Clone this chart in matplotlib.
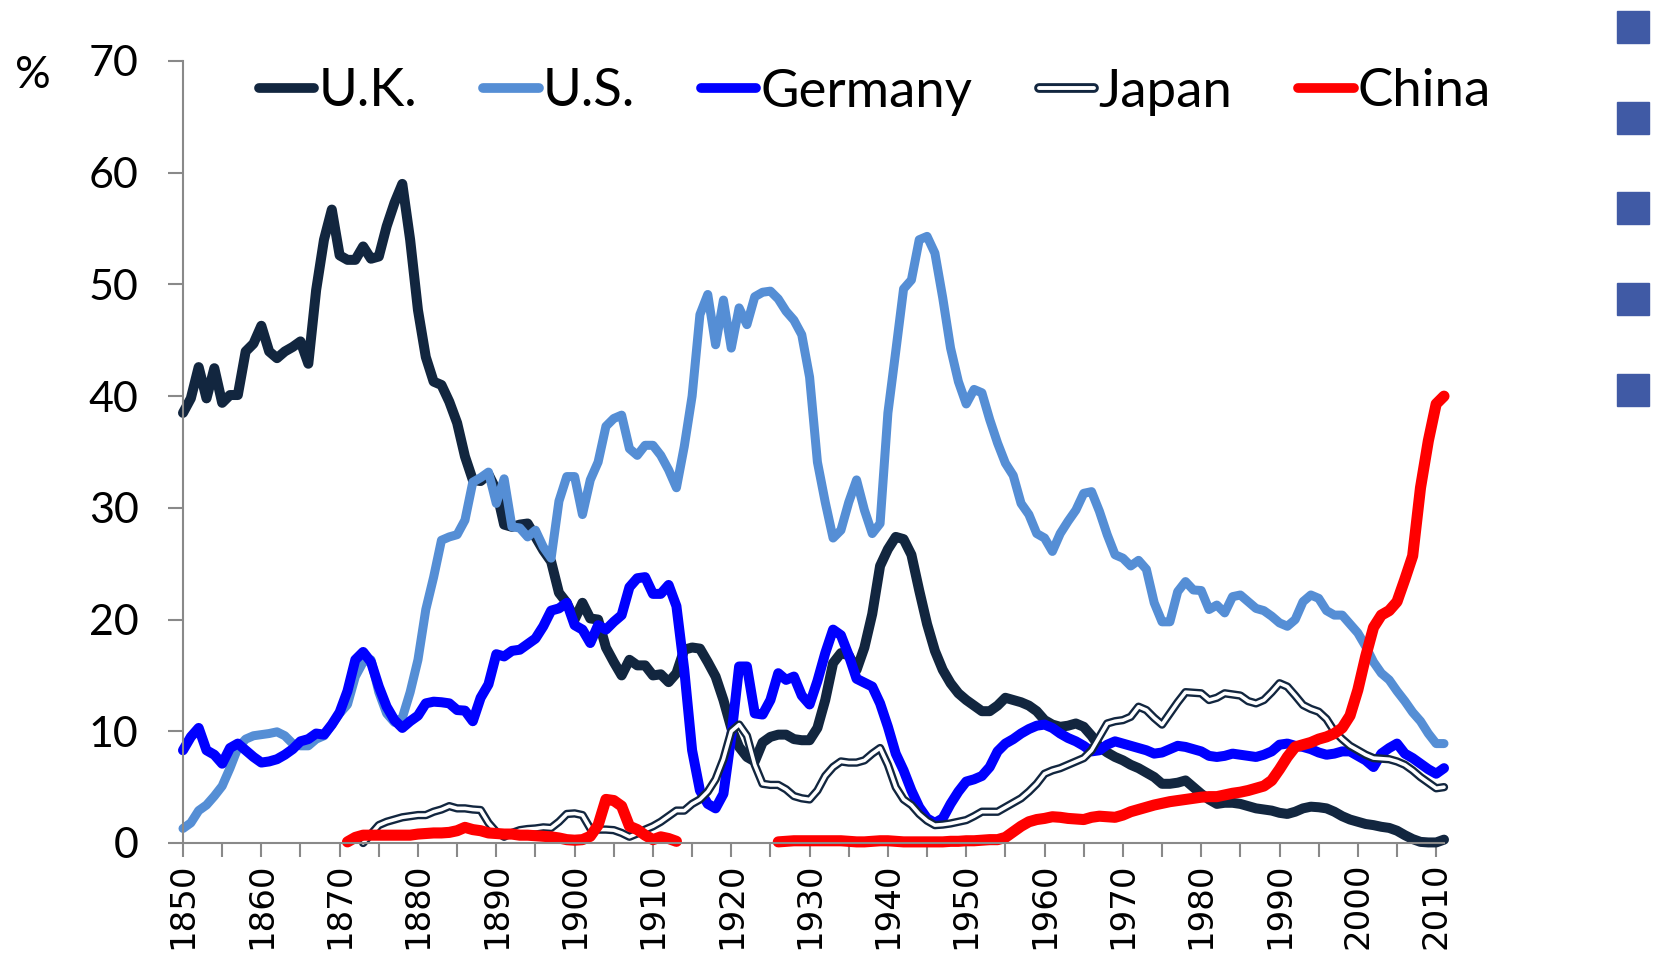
import matplotlib.pyplot as plt
import numpy as np
from matplotlib.legend_handler import HandlerTuple
from matplotlib.lines import Line2D
from matplotlib.patches import Rectangle

years = list(range(1850, 2012))

uk = [38.5, 39.8, 42.6, 39.8, 42.5, 39.4, 40.1, 40.1, 44.0, 44.7,
      46.3, 44.0, 43.4, 44.0, 44.4, 44.9, 42.9, 49.5, 54.0, 56.7,
      52.6, 52.2, 52.2, 53.4, 52.3, 52.5, 55.2, 57.3, 59.0, 54.0,
      47.7, 43.5, 41.3, 41.0, 39.5, 37.6, 34.6, 32.5, 32.4, 33.0,
      31.6, 28.5, 28.3, 28.5, 28.6, 27.4, 26.2, 25.2, 22.4, 21.5,
      20.0, 21.5, 20.1, 20.0, 17.5, 16.2, 15.0, 16.4, 15.9, 15.9,
      15.0, 15.1, 14.4, 15.2, 17.3, 17.5, 17.4, 16.2, 14.9, 12.8,
      10.3, 8.6, 7.7, 7.3, 9.0, 9.5, 9.7, 9.7, 9.3, 9.2,
      9.2, 10.3, 12.8, 16.1, 17.0, 16.8, 15.5, 17.5, 20.5, 24.8,
      26.3, 27.4, 27.2, 25.8, 22.6, 19.6, 17.2, 15.5, 14.3, 13.4,
      12.8, 12.3, 11.8, 11.8, 12.3, 13.0, 12.8, 12.6, 12.3, 11.8,
      11.0, 10.6, 10.4, 10.5, 10.7, 10.4, 9.6, 8.6, 8.1, 7.7,
      7.4, 7.0, 6.7, 6.3, 5.9, 5.3, 5.3, 5.4, 5.6, 5.0,
      4.4, 3.9, 3.5, 3.6, 3.6, 3.5, 3.3, 3.1, 3.0, 2.9,
      2.7, 2.6, 2.8, 3.1, 3.25, 3.2, 3.1, 2.8, 2.4, 2.1,
      1.9, 1.7, 1.6, 1.45, 1.35, 1.1, 0.7, 0.35, 0.1, 0.05,
      0.05, 0.3]

us = [1.3, 1.8, 2.9, 3.4, 4.2, 5.1, 6.7, 8.5, 9.3, 9.6,
      9.7, 9.8, 9.95, 9.6, 8.9, 8.7, 8.7, 9.3, 9.6, 10.6,
      11.6, 12.4, 14.9, 16.2, 16.4, 13.5, 11.6, 10.8, 11.2, 13.5,
      16.4, 20.9, 23.8, 27.1, 27.4, 27.6, 28.9, 32.3, 32.7, 33.2,
      30.4, 32.6, 28.3, 28.2, 27.4, 28.0, 26.5, 25.5, 30.6, 32.8,
      32.8, 29.4, 32.5, 34.1, 37.3, 38.0, 38.3, 35.3, 34.7, 35.6,
      35.6, 34.7, 33.4, 31.8, 35.5, 40.0, 47.3, 49.1, 44.6, 48.6,
      44.3, 47.9, 46.4, 48.9, 49.3, 49.4, 48.7, 47.6, 46.8, 45.5,
      41.7, 34.1, 30.5, 27.3, 28.0, 30.5, 32.5, 29.8, 27.7, 28.6,
      38.5, 44.0, 49.6, 50.4, 54.0, 54.3, 52.8, 48.8, 44.3, 41.3,
      39.3, 40.6, 40.3, 37.9, 35.8, 34.0, 32.9, 30.4, 29.4, 27.7,
      27.3, 26.1, 27.7, 28.8, 29.8, 31.3, 31.45, 29.7, 27.6, 25.8,
      25.5, 24.8, 25.3, 24.5, 21.5, 19.8, 19.8, 22.5, 23.4, 22.65,
      22.6, 20.9, 21.3, 20.6, 22.05, 22.2, 21.6, 21.0, 20.8, 20.3,
      19.7, 19.4, 20.0, 21.6, 22.2, 21.9, 20.8, 20.4, 20.4, 19.6,
      18.8, 17.6, 16.2, 15.2, 14.6, 13.6, 12.7, 11.7, 10.9, 9.8,
      8.9, 8.9]

germany = [8.3, 9.5, 10.3, 8.3, 7.9, 7.1, 8.5, 8.9, 8.3, 7.7,
           7.2, 7.3, 7.5, 7.9, 8.4, 9.1, 9.3, 9.8, 9.7, 10.6,
           11.7, 13.6, 16.4, 17.1, 16.2, 14.0, 12.2, 11.0, 10.3, 10.9,
           11.4, 12.5, 12.65, 12.6, 12.5, 11.9, 11.85, 10.9, 13.0, 14.2,
           16.9, 16.7, 17.2, 17.3, 17.8, 18.3, 19.4, 20.8, 21.0, 21.5,
           19.5, 19.1, 17.9, 19.5, 19.1, 19.8, 20.4, 22.9, 23.7, 23.8,
           22.3, 22.3, 23.1, 21.2, 15.5, 8.3, 4.7, 3.5, 3.1, 4.4,
           9.5, 15.8, 15.8, 11.6, 11.5, 12.8, 15.2, 14.6, 14.9, 13.2,
           12.4, 14.5, 17.0, 19.1, 18.6, 16.8, 14.7, 14.35, 14.0, 12.5,
           10.4, 8.0, 6.5, 4.7, 3.2, 2.2, 1.8, 2.2, 3.5, 4.6,
           5.5, 5.7, 6.0, 6.8, 8.2, 8.9, 9.3, 9.8, 10.2, 10.5,
           10.6, 10.3, 9.8, 9.4, 9.1, 8.7, 8.2, 8.3, 8.8, 9.1,
           8.9, 8.7, 8.5, 8.3, 8.0, 8.1, 8.4, 8.7, 8.6, 8.4,
           8.2, 7.8, 7.7, 7.8, 8.0, 7.9, 7.8, 7.7, 7.9, 8.2,
           8.8, 8.9, 8.7, 8.6, 8.4, 8.1, 7.9, 8.0, 8.2, 8.2,
           7.8, 7.4, 6.8, 8.0, 8.5, 8.9, 8.0, 7.6, 7.1, 6.6,
           6.2, 6.7]

japan = [None] * 23 + [
    0.0, 0.8, 1.6, 1.9, 2.1, 2.3, 2.4,
    2.5, 2.5, 2.8, 3.0, 3.3, 3.1, 3.1, 3.0, 2.95, 1.8,
    1.0, 0.56, 0.9, 1.15, 1.25, 1.3, 1.4, 1.35, 1.9, 2.6,
    2.65, 2.5, 1.3, 1.2, 1.2, 1.15, 0.9, 0.56, 0.85, 1.2,
    1.5, 1.9, 2.4, 2.9, 2.9, 3.5, 3.9, 4.6, 5.7, 7.5,
    10.0, 10.6, 9.6, 7.0, 5.3, 5.2, 5.2, 4.8, 4.2, 4.0,
    3.9, 4.7, 6.0, 6.8, 7.3, 7.2, 7.2, 7.4, 8.0, 8.5,
    7.0, 5.0, 3.9, 3.4, 2.6, 2.0, 1.6, 1.65, 1.75, 1.9,
    2.05, 2.4, 2.8, 2.8, 2.8, 3.2, 3.6, 4.0, 4.6, 5.3,
    6.2, 6.5, 6.7, 7.0, 7.3, 7.6, 8.3, 9.5, 10.7, 10.9,
    11.0, 11.3, 12.2, 11.9, 11.2, 10.6, 11.6, 12.6, 13.5, 13.45,
    13.4, 12.8, 13.0, 13.4, 13.3, 13.2, 12.7, 12.5, 12.8, 13.5,
    14.3, 14.0, 13.2, 12.35, 12.0, 11.75, 11.1, 10.0, 9.3, 8.7,
    8.3, 7.9, 7.6, 7.55, 7.5, 7.3, 7.0, 6.5, 5.9, 5.4,
    4.9, 5.0]

china = [None] * 21 + [
    0.1, 0.5, 0.7, 0.7, 0.7, 0.7, 0.7, 0.7, 0.7,
    0.8, 0.85, 0.9, 0.9, 0.95, 1.1, 1.4, 1.2, 1.1, 0.9,
    0.85, 0.8, 0.8, 0.7, 0.7, 0.65, 0.6, 0.55, 0.45, 0.3,
    0.25, 0.3, 0.6, 1.6, 3.9, 3.8, 3.3, 1.5, 1.2, 0.7,
    0.3, 0.55, 0.4, 0.15] + [None] * 12 + [
    0.1, 0.15, 0.2, 0.2,
    0.2, 0.2, 0.2, 0.2, 0.2, 0.15, 0.1, 0.1, 0.15, 0.2,
    0.2, 0.15, 0.1, 0.1, 0.1, 0.1, 0.1, 0.1, 0.15, 0.15,
    0.2, 0.2, 0.25, 0.3, 0.3, 0.5, 1.0, 1.5, 1.9, 2.1,
    2.2, 2.35, 2.3, 2.2, 2.15, 2.1, 2.3, 2.4, 2.35, 2.3,
    2.5, 2.8, 3.0, 3.2, 3.4, 3.55, 3.7, 3.8, 3.9, 4.0,
    4.1, 4.15, 4.15, 4.3, 4.45, 4.55, 4.7, 4.9, 5.1, 5.6,
    6.6, 7.7, 8.6, 8.8, 9.0, 9.3, 9.5, 9.8, 10.3, 11.4,
    13.7, 16.7, 19.3, 20.4, 20.8, 21.6, 23.6, 25.7, 31.8, 36.0,
    39.3, 40.0]

y_ticks = [0, 10, 20, 30, 40, 50, 60, 70]

NAVY = "#12263f"
GRID_GREY = "#898989"
SANS = ["Lato", "DejaVu Sans"]


def main():
    W, H = 1659, 959
    fig = plt.figure(figsize=(W / 100, H / 100), dpi=100)
    ax = fig.add_axes([183 / W, 1 - 843 / H, (1444 - 183) / W, (843 - 61) / H])

    line_kw = dict(solid_joinstyle="round", solid_capstyle="round", clip_on=False)
    ax.plot(years, np.array(uk, dtype=float), color=NAVY, lw=7.2, **line_kw)
    ax.plot(years, np.array(us, dtype=float), color="#558ed5", lw=6.5, **line_kw)
    ax.plot(years, np.array(germany, dtype=float), color="#0000ff", lw=7.2, **line_kw)
    # Japan is drawn as a hollow double line
    jp = np.array(japan, dtype=float)
    ax.plot(years, jp, color=NAVY, lw=6.0, **line_kw)
    ax.plot(years, jp, color="white", lw=2.6, **line_kw)
    ax.plot(years, np.array(china, dtype=float), color="#ff0000", lw=8.0, **line_kw)

    ax.set_xlim(1850, 2011)
    ax.set_ylim(0, 70)

    for side in ("top", "right"):
        ax.spines[side].set_visible(False)
    for side in ("left", "bottom"):
        ax.spines[side].set_color(GRID_GREY)
        ax.spines[side].set_linewidth(1.5)

    x_ticks = list(range(1850, 2011, 5))
    ax.set_xticks(x_ticks)
    ax.set_xticklabels([str(t) if t % 10 == 0 else "" for t in x_ticks],
                       rotation=90, fontsize=24.5, family="DejaVu Sans")
    ax.set_yticks(y_ticks)
    ax.set_yticklabels([str(t) for t in y_ticks], fontsize=31, family=SANS)
    ax.tick_params(axis="x", length=10, width=1.5, color=GRID_GREY, pad=4)
    ax.tick_params(axis="y", length=11, width=1.5, color=GRID_GREY, pad=21)

    fig.text(33 / W, 1 - 76 / H, "%", ha="center", va="center", fontsize=32, family=SANS)

    # legend, with a two-tone handle for Japan
    handles = [
        Line2D([], [], color=NAVY, lw=7, solid_capstyle="round"),
        Line2D([], [], color="#558ed5", lw=7, solid_capstyle="round"),
        Line2D([], [], color="#0000ff", lw=7, solid_capstyle="round"),
        (Line2D([], [], color=NAVY, lw=7, solid_capstyle="round"),
         Line2D([], [], color="white", lw=2.8, solid_capstyle="round")),
        Line2D([], [], color="#ff0000", lw=7, solid_capstyle="round"),
    ]
    labels = ["U.K.", "U.S.", "Germany", "Japan", "China"]
    fig.legend(handles, labels, loc="center", bbox_to_anchor=(875 / W, 1 - 92 / H),
               ncol=5, frameon=False, prop={"family": SANS, "size": 38},
               handlelength=1.05, handletextpad=0.08, columnspacing=1.25,
               handler_map={tuple: HandlerTuple(ndivide=1)})

    # stray blue markers at the right edge
    for top in (11, 102, 192, 283, 374):
        fig.patches.append(Rectangle((1617 / W, 1 - (top + 32) / H), 32 / W, 32 / H,
                                     transform=fig.transFigure, color="#405aa5"))

    fig.savefig("out.png", dpi=100)


if __name__ == "__main__":
    main()
